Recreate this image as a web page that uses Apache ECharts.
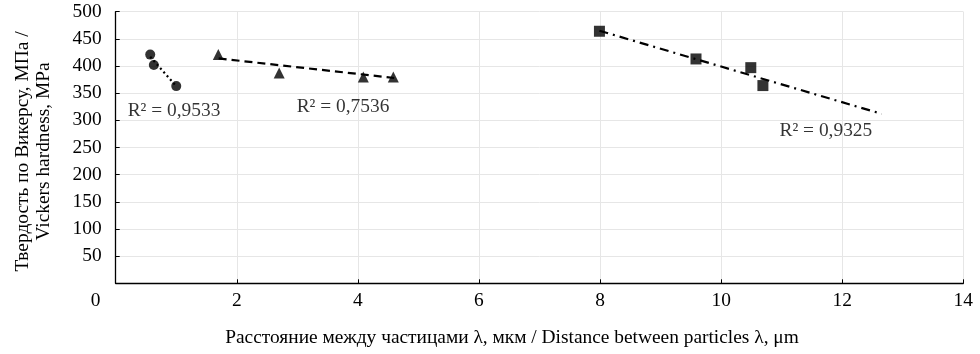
<!DOCTYPE html>
<html>
<head>
<meta charset="utf-8">
<script src="https://cdn.jsdelivr.net/npm/echarts@6/dist/echarts.min.js"></script>
<style>html,body{margin:0;padding:0;background:#fff}#c{width:980px;height:354px}</style>
</head>
<body>
<div id="c"></div>
<script>
// Data
const circleX = [0.57, 0.63, 1.0];
const circleY = [421, 402, 363];
const triangleX = [1.695, 2.70, 4.09, 4.585];
const triangleY = [421, 387, 380, 380];
const squareX = [7.99, 9.585, 10.49, 10.69];
const squareY = [464, 413, 397, 364];
// Trendline end points
const circleTrendX = [0.57, 1.0];
const circleTrendY = [417, 363];
const triangleTrendX = [1.7, 4.6];
const triangleTrendY = [414, 378];
const squareTrendX = [7.99, 12.65];
const squareTrendY = [465, 312];
const r2Values = ['0,9533', '0,7536', '0,9325'];
const xTicks = [0, 2, 4, 6, 8, 10, 12, 14];
const yTicks = [0, 50, 100, 150, 200, 250, 300, 350, 400, 450, 500];
const xTitle = 'Расстояние между частицами λ, мкм / Distance between particles λ, μm';
const yTitle = 'Твердость по Викерсу, МПа /\nVickers hardness, MPa';

const zip = (xs, ys) => xs.map((x, i) => [x, ys[i]]);
const FONT = 'Liberation Serif';
const FS = 19.4;
const TXT = '#000';

const chart = echarts.init(document.getElementById('c'), null, {renderer: 'canvas'});

function trend(xs, ys, type) {
  return {
    type: 'line', data: zip(xs, ys), symbol: 'none', silent: true,
    lineStyle: {color: '#000', width: 2.2, type: type, cap: 'butt'},
    z: 2, animation: false
  };
}
function points(xs, ys, symbol, size) {
  return {
    type: 'scatter', data: zip(xs, ys), symbol: symbol, symbolSize: size,
    itemStyle: {color: '#000'}, z: 3, animation: false
  };
}
function r2Label(pos, text) {
  return {
    type: 'scatter', data: [pos], symbolSize: 0, silent: true, animation: false,
    label: {show: true, position: 'inside', formatter: 'R² = ' + text,
      fontFamily: FONT, fontSize: FS, color: TXT}
  };
}

chart.setOption({
  animation: false,
  backgroundColor: '#fff',
  grid: {left: 115.7, right: 16.7, top: 11.7, bottom: 70.7, containLabel: false},
  xAxis: {
    type: 'value', min: xTicks[0], max: xTicks[xTicks.length - 1], interval: 2,
    axisLine: {show: true, onZero: false, lineStyle: {color: '#000', width: 1.3}},
    axisTick: {show: true, inside: true, length: 4, lineStyle: {color: '#000', width: 1}},
    splitLine: {show: true, lineStyle: {color: '#e6e6e6', width: 1}},
    axisLabel: {
      show: true, margin: 8, fontFamily: FONT, fontSize: FS, color: TXT,
      formatter: v => v === 0 ? '{z|0}' : String(v),
      rich: {z: {fontFamily: FONT, fontSize: FS, color: TXT, padding: [0, 40, 0, 0]}}
    },
    name: xTitle, nameLocation: 'middle', nameGap: 45,
    nameTextStyle: {fontFamily: FONT, fontSize: FS, color: TXT, padding: [0, 55, 0, 0]}
  },
  yAxis: {
    type: 'value', min: yTicks[0], max: yTicks[yTicks.length - 1], interval: 50,
    axisLine: {show: true, lineStyle: {color: '#000', width: 1.3}},
    axisTick: {show: true, inside: true, length: 4, lineStyle: {color: '#000', width: 1}},
    splitLine: {show: true, lineStyle: {color: '#e6e6e6', width: 1}},
    axisLabel: {
      show: true, margin: 14, fontFamily: FONT, fontSize: FS, color: TXT,
      formatter: v => v === 0 ? '' : String(v)
    },
    name: yTitle, nameLocation: 'middle', nameGap: 61,
    nameTextStyle: {fontFamily: FONT, fontSize: FS, color: TXT, lineHeight: 21, align: 'center', padding: [0, 8, 0, 0]}
  },
  series: [
    trend(circleTrendX, circleTrendY, [2, 3]),
    trend(triangleTrendX, triangleTrendY, [8, 5]),
    trend(squareTrendX, squareTrendY, [9, 5, 2, 5]),
    points(circleX, circleY, 'circle', 10),
    points(triangleX, triangleY, 'triangle', 11),
    points(squareX, squareY, 'rect', 11),
    r2Label([0.963, 317], r2Values[0]),
    r2Label([3.755, 325], r2Values[1]),
    r2Label([11.73, 280.4], r2Values[2])
  ]
});
</script>
</body>
</html>
